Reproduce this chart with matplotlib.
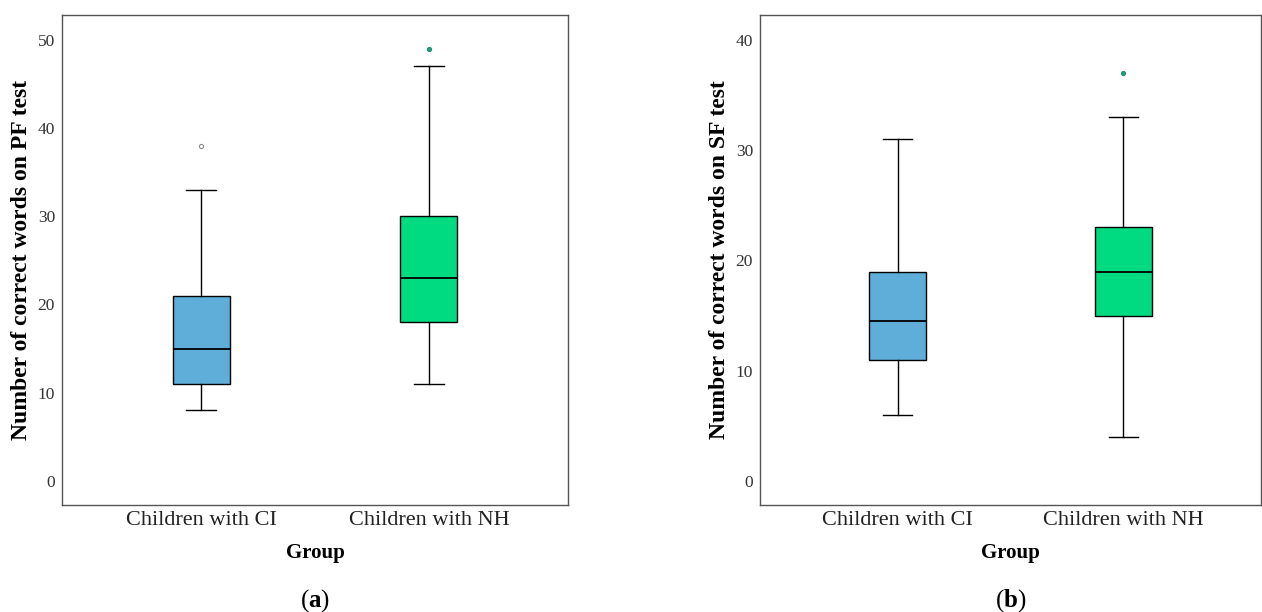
import matplotlib.pyplot as plt

plt.rcParams["font.family"] = ["Liberation Serif", "DejaVu Serif"]
plt.rcParams["mathtext.fontset"] = "custom"
plt.rcParams["mathtext.rm"] = "Liberation Serif"
plt.rcParams["mathtext.bf"] = "Liberation Serif:bold"

groups = ["Children with CI", "Children with NH"]
colors = ["#5fadd9", "#00db82"]

# PF test: whislo, q1, med, q3, whishi, outliers
pf_whislo = [8, 11]
pf_q1 = [11, 18]
pf_med = [15, 23]
pf_q3 = [21, 30]
pf_whishi = [33, 47]
pf_fliers = [[38], [49]]

# SF test
sf_whislo = [6, 4]
sf_q1 = [11, 15]
sf_med = [14.5, 19]
sf_q3 = [19, 23]
sf_whishi = [31, 33]
sf_fliers = [[], [37]]

flier_face = ["white", "#1aa37a"]
flier_edge = ["#888888", "#2a8f73"]


def make_stats(lo, q1, med, q3, hi, fl):
    out = []
    for i in range(len(lo)):
        out.append(dict(whislo=lo[i], q1=q1[i], med=med[i], q3=q3[i],
                        whishi=hi[i], fliers=fl[i], label=groups[i]))
    return out


def draw(ax, stats, ylim, yticks, ylabel, tag):
    bp = ax.bxp(stats, positions=[0, 1], widths=0.25, patch_artist=True,
                showfliers=False, capwidths=0.13,
                boxprops=dict(edgecolor="black", linewidth=1.0),
                medianprops=dict(color="black", linewidth=1.3),
                whiskerprops=dict(color="black", linewidth=1.0),
                capprops=dict(color="black", linewidth=1.0))
    for patch, c in zip(bp["boxes"], colors):
        patch.set_facecolor(c)
    for i, s in enumerate(stats):
        if s["fliers"]:
            ax.scatter([i] * len(s["fliers"]), s["fliers"], s=9,
                       facecolor=flier_face[i], edgecolor=flier_edge[i],
                       linewidth=0.8, zorder=3)
    ax.set_xlim(-0.61, 1.61)
    ax.set_ylim(*ylim)
    ax.set_yticks(yticks)
    ax.tick_params(length=0, labelsize=12.5, colors="#333333", pad=5)
    ax.tick_params(axis="x", labelsize=16, colors="#222222", pad=4)
    ax.set_xticks([0, 1])
    ax.set_xticklabels(groups)
    for sp in ax.spines.values():
        sp.set_color("#555555")
        sp.set_linewidth(1.0)
    ax.set_ylabel(ylabel, fontsize=17, fontweight="bold", labelpad=4)
    ax.set_xlabel("Group", fontsize=15, fontweight="bold", labelpad=10)
    ax.text(0.5, -0.195, tag, transform=ax.transAxes, ha="center", va="center",
            fontsize=18)


fig = plt.figure(figsize=(12.62, 6.12), dpi=100)
ax1 = fig.add_axes([62 / 1262, 107 / 612, 506 / 1262, 490 / 612])
ax2 = fig.add_axes([760 / 1262, 107 / 612, 501 / 1262, 490 / 612])

draw(ax1, make_stats(pf_whislo, pf_q1, pf_med, pf_q3, pf_whishi, pf_fliers),
     (-2.72, 52.8), [0, 10, 20, 30, 40, 50],
     "Number of correct words on PF test", r"($\mathbf{a}$)")
draw(ax2, make_stats(sf_whislo, sf_q1, sf_med, sf_q3, sf_whishi, sf_fliers),
     (-2.18, 42.27), [0, 10, 20, 30, 40],
     "Number of correct words on SF test", r"($\mathbf{b}$)")

fig.savefig("out.png", dpi=100)
